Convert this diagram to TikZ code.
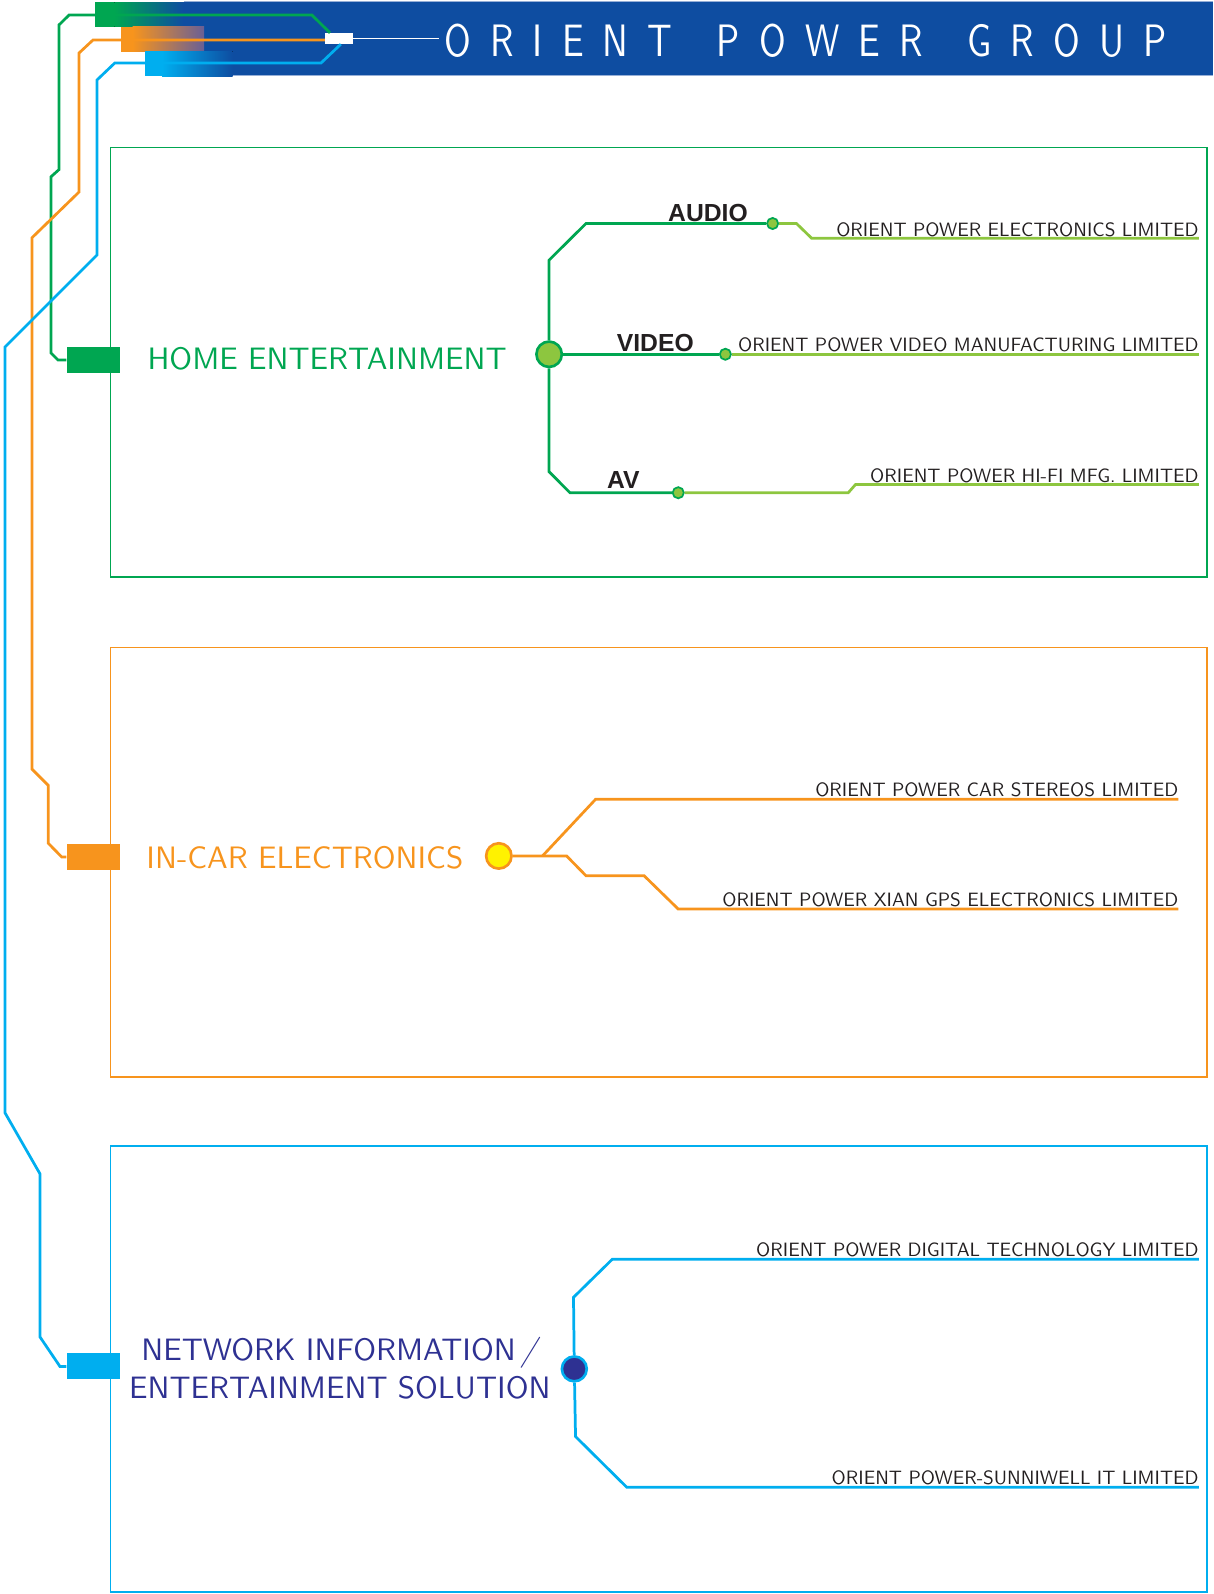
\documentclass[tikz,border=0pt]{standalone}
\usepackage{fontspec}
\newfontfamily\lmsf{lmsans10-regular.otf}
\newfontfamily\headf{lmsans10-regular.otf}[FakeStretch=0.8]
\newfontfamily\slashf{lmsans10-regular.otf}[FakeSlant=0.25]
\newfontfamily\labf{Liberation Sans}
\definecolor{bandblue}{RGB}{14,77,161}
\definecolor{ggreen}{RGB}{0,166,81}
\definecolor{lgreen}{RGB}{141,198,63}
\definecolor{oorange}{RGB}{247,148,29}
\definecolor{yyellow}{RGB}{255,242,0}
\definecolor{ccyan}{RGB}{0,174,239}
\definecolor{dblue}{RGB}{46,49,146}
\definecolor{dgray}{RGB}{35,31,32}
\definecolor{bandedge}{RGB}{150,175,215}
\definecolor{orfade}{RGB}{105,95,150}
\newcommand\ltgap{\hskip 0pt plus 1fil\relax}
\newcommand\wdgap{\hskip 0pt plus 2.3fil\relax}
\tikzset{
  gline/.style={draw=ggreen, line width=2.7pt},
  lgline/.style={draw=lgreen, line width=2.7pt},
  oline/.style={draw=oorange, line width=2.7pt},
  cline/.style={draw=ccyan, line width=2.7pt},
  company/.style={font=\lmsf\fontsize{19}{19}\selectfont, text=dgray, anchor=base east, inner sep=0pt},
  catlab/.style={font=\lmsf\fontsize{30.5}{30.5}\selectfont, inner sep=0pt},
  sublab/.style={font=\labf\bfseries\fontsize{24.3}{24.3}\selectfont, text=dgray, anchor=base west, inner sep=0pt},
  dotst/.style={circle, draw=ggreen, fill=lgreen, line width=1.7pt, inner sep=0pt, minimum size=11pt},
  catbox/.style={minimum width=52.4pt, minimum height=25.5pt, inner sep=0pt}
}
\begin{document}
\begin{tikzpicture}[x=1pt,y=-1pt]
\useasboundingbox (0,0) rectangle (1194,1569);
% header band
\fill[bandblue] (180,2) rectangle (1194,74);
\draw[bandedge, line width=0.8pt] (181,1.6) -- (1194,1.6);
\draw[bandedge, line width=0.8pt] (229,74.6) -- (1194,74.6);
% gradient tabs
\fill[ggreen] (93.5,2) rectangle (113,26.5);
\fill[left color=ggreen, right color=bandblue] (112.5,2) rectangle (180.5,26.5);
\fill[oorange] (119,26.5) rectangle (131,51);
\fill[left color=oorange, right color=orfade] (130.5,26.5) rectangle (201,51);
\fill[ccyan] (143,50.5) rectangle (160,75);
\fill[left color=ccyan, right color=bandblue] (159.5,50.5) rectangle (229,75);
% title
\node[anchor=base west, inner sep=0pt, text=white, font=\headf\fontsize{44.7}{44.7}\selectfont] (title) at (437,55.6)
  {\hbox to 711pt{O\ltgap R\ltgap I\ltgap E\ltgap N\ltgap T\wdgap P\ltgap O\ltgap W\ltgap E\ltgap R\wdgap G\ltgap R\ltgap O\ltgap U\ltgap P}};
\node[fill=white, minimum width=27pt, minimum height=10.8pt, inner sep=0pt] (wbox) at (333.5,37.9) {};
\coordinate (tl) at (432,37.9);
\draw[white, line width=1.5pt] (wbox.east) -- (tl);
% frames
\draw[ggreen, line width=1.2pt] (109,145) rectangle (1188,568);
\draw[oorange, line width=1.2pt] (109,637) rectangle (1188,1060);
\draw[ccyan, line width=1.2pt] (109,1128) rectangle (1188,1567);
% category boxes
\node[catbox, fill=ggreen] (hbox) at (91.8,354.3) {};
\node[catbox, fill=oorange] (obox) at (91.8,843.5) {};
\node[catbox, fill=ccyan] (cbox) at (91.8,1345) {};
% feed lines
\draw[gline] ([xshift=5pt]wbox.north west) -- (307,14.8) -- (68,14.8) -- (58,24.6) -- (58,167) -- (50.2,174) -- (50.2,347.4) -- (57,354.3) -- (hbox.west);
\draw[oline] ([yshift=-1.5pt]wbox.west) -- (91.5,39.4) -- (77.8,52.2) -- (77.8,189) -- (31.5,234) -- (31.5,757) -- (47.5,773) -- (47.5,830) -- (60.7,843.5) -- (obox.west);
\draw[cline] ([xshift=2pt]wbox.south) -- (316,62) -- (113,62) -- (95.5,78.7) -- (95.5,251) -- (5,341.5) -- (5,1095.5) -- (39.4,1155.5) -- (39.4,1316) -- (59,1345) -- (cbox.west);
% category labels
\node[catlab, text=ggreen, anchor=base west] (hlab) at (145,364) {HOME ENTERTAINMENT};
\node[catlab, text=oorange, anchor=base west] (olab) at (144,854.5) {IN-CAR ELECTRONICS};
\node[catlab, text=dblue, anchor=base] (clab1) at (333.5,1339) {NETWORK INFORMATION\kern5pt{\slashf/}};
\node[catlab, text=dblue, anchor=base] (clab2) at (334.5,1377) {ENTERTAINMENT SOLUTION};
% home entertainment tree
\node[circle, draw=ggreen, fill=lgreen, line width=2.6pt, inner sep=0pt, minimum size=25pt] (hc) at (540.5,348.7) {};
\node[dotst] (adot) at (760.5,220) {};
\node[dotst] (vdot) at (714,348.7) {};
\node[dotst] (avdot) at (667.6,485) {};
\coordinate (e1) at (1180,234.6);
\coordinate (e2) at (1180,348.7);
\coordinate (e3) at (1180,477);
\draw[gline] (hc) -- (540.5,256) -- (576.8,220) -- (adot);
\draw[gline] (hc) -- (vdot);
\draw[gline] (hc) -- (540.5,464.3) -- (561,485) -- (avdot);
\draw[lgline] (adot) -- (784,220) -- (799,234.6) -- (e1);
\draw[lgline] (vdot) -- (e2);
\draw[lgline] (avdot) -- (835,485) -- (842,477) -- (e3);
\node[sublab] (audio) at (657.5,218.2) {AUDIO};
\node[sublab] (video) at (607,345.5) {VIDEO};
\node[sublab] (av) at (597.5,481.3) {AV};
\node[company] (c1) at (1180,232.3) {ORIENT POWER ELECTRONICS LIMITED};
\node[company] (c2) at (1180,346.3) {ORIENT POWER VIDEO MANUFACTURING LIMITED};
\node[company] (c3) at (1180,474.6) {ORIENT POWER HI-FI MFG. LIMITED};
% in-car tree
\node[circle, draw=oorange, fill=yyellow, line width=2.6pt, inner sep=0pt, minimum size=25pt] (yc) at (491,842.5) {};
\coordinate (ob) at (534,842.5);
\coordinate (e4) at (1160,786.7);
\coordinate (e5) at (1160,894.7);
\draw[oline] (yc) -- (557.7,842.5) -- (576.8,862) -- (634,862) -- (667.5,894.7) -- (e5);
\draw[oline] (ob) -- (586.3,786.7) -- (e4);
\node[company] (c4) at (1160,784.3) {ORIENT POWER CAR STEREOS LIMITED};
\node[company] (c5) at (1160,892.3) {ORIENT POWER XIAN GPS ELECTRONICS LIMITED};
% network tree
\node[circle, draw=ccyan, fill=dblue, line width=2.6pt, inner sep=0pt, minimum size=24.5pt] (cc) at (565.3,1347.4) {};
\coordinate (e6) at (1180,1239.5);
\coordinate (e7) at (1180,1464);
\draw[cline] (cc) -- (564.5,1277) -- (602.7,1239.5) -- (e6);
\draw[cline] (cc) -- (566.5,1414) -- (617,1464) -- (e7);
\node[company] (c6) at (1180,1237.1) {ORIENT POWER DIGITAL TECHNOLOGY LIMITED};
\node[company] (c7) at (1180,1461.6) {ORIENT POWER-SUNNIWELL IT LIMITED};
\end{tikzpicture}
\end{document}
